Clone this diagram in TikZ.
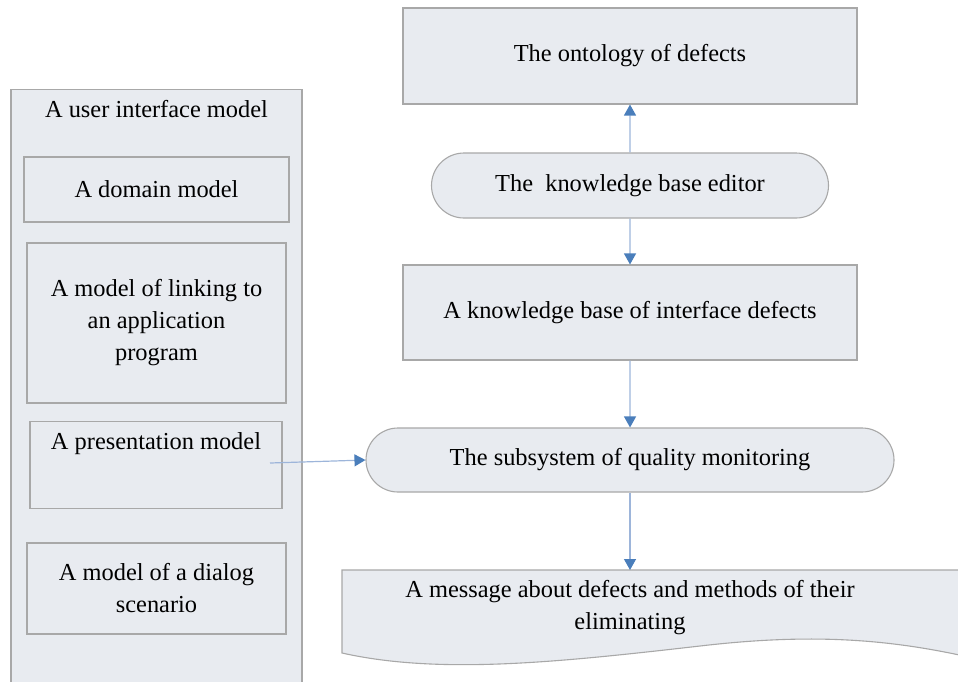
\documentclass[tikz,border=0pt]{standalone}
\usepackage{fontspec}
\setmainfont{Liberation Serif}
\usetikzlibrary{arrows.meta,shapes.misc}
\definecolor{boxfill}{HTML}{E8EBF0}
\definecolor{boxline}{HTML}{A8A8A8}
\definecolor{linkline}{HTML}{9DB5DA}
\definecolor{tipblue}{HTML}{4A7EBB}
\newcommand{\txt}{\fontsize{12.2}{16}\selectfont}

\begin{document}
\begin{tikzpicture}[x=0.5pt,y=-0.5pt, % 1 unit = 1 px of the 958x681 frame
   box/.style={draw=boxline,fill=boxfill,line width=0.55pt,align=center,font=\txt,inner sep=3pt},
   pill/.style={box,rounded rectangle},
   flow/.style={draw=linkline,line width=0.6pt,-{Triangle[width=6pt,length=5.5pt,color=tipblue]}}]
   \useasboundingbox (0,0) rectangle (958,681);
   % left column
   \node[box,anchor=north,minimum width=145.5pt,text height=11pt,text depth=283.5pt] (uim) at (156.5,89) {A user interface model};
   \node[box,minimum width=132.5pt,minimum height=32.5pt] (dom) at (156.5,189.5) {A domain model};
   \node[box,minimum width=129.5pt,minimum height=80pt] (link) at (156.5,323) {A model of linking to\\an application\\program};
   \node[box,anchor=north,minimum width=126pt,text height=11pt,text depth=26.5pt] (pres) at (156,421) {A presentation model};
   \node[box,minimum width=129.5pt,minimum height=45.5pt] (dlg) at (156.5,588.5) {A model of a dialog\\scenario};
   % right column
   \node[box,minimum width=227pt,minimum height=48pt] (onto) at (630,56) {The ontology of defects};
   \node[pill,minimum width=204.5pt,minimum height=32.5pt] (editor) at (630,185.5) {The\ \ knowledge base editor};
   \node[box,minimum width=227pt,minimum height=47.5pt] (kb) at (630,312.5) {A knowledge base of interface defects};
   \node[pill,minimum width=270pt,minimum height=32pt] (sub) at (630,460) {The subsystem of quality monitoring};
   % document shape
   \path[draw=boxline,fill=boxfill,line width=0.55pt] (342,570) -- (342,653)
        .. controls (440,675) and (560,662) .. (700,646)
        .. controls (820,632) and (900,640) .. (990,662) -- (990,570) -- cycle;
   \node[align=center,font=\txt] (msg) at (630,608) {A message about defects and methods of their\\eliminating};
   \coordinate (msgtop) at (630,570);
   \coordinate (pstart) at (270,463);
   % connectors
   \draw[flow] (editor) -- (onto);
   \draw[flow] (editor) -- (kb);
   \draw[flow] (kb) -- (sub);
   \draw[flow] (sub) -- (msgtop);
   \draw[flow] (pstart) -- (sub.west);
\end{tikzpicture}
\end{document}
